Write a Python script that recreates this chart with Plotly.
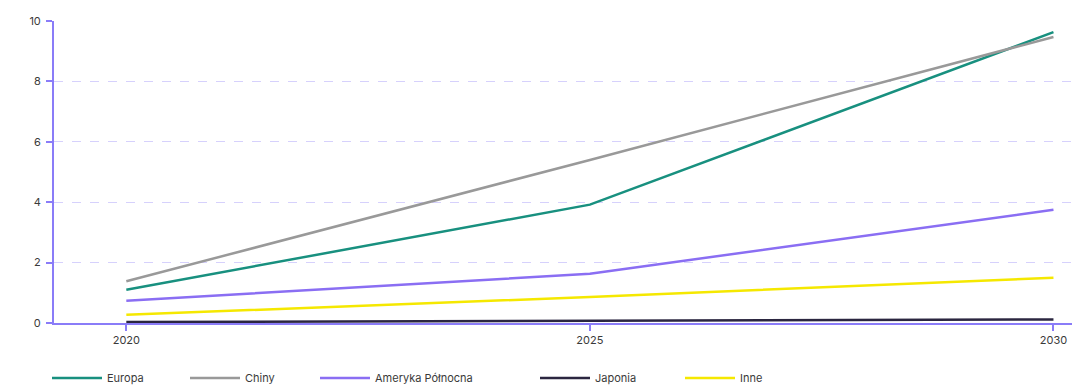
import plotly.graph_objects as go

years = [2020, 2025, 2030]
europa = [1.10, 3.92, 9.63]
chiny = [1.38, 5.40, 9.47]
ameryka = [0.74, 1.63, 3.75]
japonia = [0.03, 0.07, 0.12]
inne = [0.27, 0.86, 1.50]

names = ["Europa", "Chiny", "Ameryka Północna", "Japonia", "Inne"]
colors = ["#18907f", "#999999", "#8a6ef3", "#2b2640", "#f5e800"]
series = [europa, chiny, ameryka, japonia, inne]
legend_x_px = [52, 190, 320, 540, 685]

L, R, T, B = 54, 0, 21, 63
W, H = 1072, 386

fig = go.Figure()
for i, (n, c, s) in enumerate(zip(names, colors, series)):
    lg = "legend" if i == 0 else f"legend{i+1}"
    fig.add_trace(go.Scatter(x=years, y=s, mode="lines", name=n, showlegend=True,
                             line=dict(color=c, width=2.5), legend=lg))

font = dict(family="Inter, Roboto, sans-serif", size=11, color="#3a3a3a")
layout_legends = {}
for i, px in enumerate(legend_x_px):
    key = "legend" if i == 0 else f"legend{i+1}"
    layout_legends[key] = dict(x=(px - 5) / W, xref="container", xanchor="left",
                               y=1 - 378 / H, yref="container", yanchor="middle",
                               orientation="h", font=font, visible=True,
                               bgcolor="rgba(0,0,0,0)", itemwidth=50)

fig.update_layout(
    width=W, height=H,
    showlegend=True,
    margin=dict(l=L, r=R, t=T, b=B, autoexpand=False),
    paper_bgcolor="white", plot_bgcolor="white",
    font=font,
    xaxis=dict(range=[2019.22, 2030.2], tickvals=years, ticktext=["2020", "2025", "2030"],
               showgrid=False, zeroline=False, showline=True, linecolor="#8a7cf8",
               linewidth=2, ticks="outside", ticklen=6, tickwidth=2, tickcolor="#8a7cf8",
               tickfont=font),
    yaxis=dict(range=[0, 10], tickvals=[0, 2, 4, 6, 8, 10], showgrid=True,
               gridcolor="#d6d1fc", griddash="dash", gridwidth=1,
               zeroline=False, showline=True, linecolor="#8a7cf8", linewidth=2,
               ticks="outside", ticklen=6, tickwidth=2, tickcolor="#8a7cf8",
               ticklabelstandoff=3, tickfont=font),
    **layout_legends,
)
fig.write_html("out.html")
